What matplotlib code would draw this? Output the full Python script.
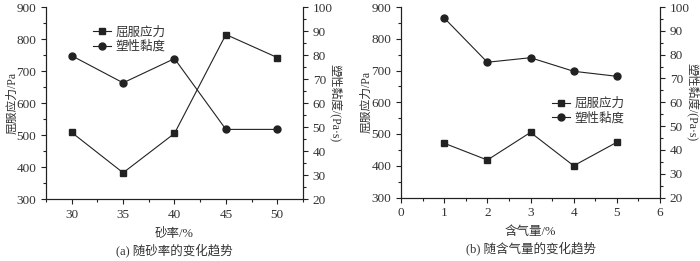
import matplotlib
matplotlib.use("Agg")
import matplotlib.pyplot as plt
from matplotlib.ticker import MultipleLocator

plt.rcParams['font.family'] = ['Liberation Serif', 'Noto Sans CJK SC']
plt.rcParams['font.size'] = 9.5

# (a) sand ratio
sand = [30, 35, 40, 45, 50]
yield_a = [508, 382, 505, 814, 742]
visc_a = [79.7, 68.4, 78.5, 49.0, 49.0]

# (b) air content
air = [1, 2, 3, 4, 5]
yield_b = [471, 418, 505, 400, 474]
visc_b = [95.4, 76.8, 78.7, 73.0, 70.9]

lab_yield = '屈服应力'
lab_visc = '塑性黏度'
txt = '#333333'
lc = '#222222'

fig = plt.figure(figsize=(7.0, 2.61), dpi=100)


def panel(rect, x, y1, y2, xlim, xmaj, xmin, xlabel, caption, leg_loc):
    ax = fig.add_axes(rect)
    ax2 = ax.twinx()
    l1, = ax.plot(x, y1, color=lc, lw=0.8, marker='s', ms=4.5, label=lab_yield)
    l2, = ax2.plot(x, y2, color=lc, lw=0.8, marker='o', ms=5, label=lab_visc)
    ax.set_xlim(*xlim)
    ax.set_ylim(300, 900)
    ax2.set_ylim(20, 100)
    ax.xaxis.set_major_locator(MultipleLocator(xmaj))
    ax.xaxis.set_minor_locator(MultipleLocator(xmin))
    ax.yaxis.set_major_locator(MultipleLocator(100))
    ax.yaxis.set_minor_locator(MultipleLocator(50))
    ax2.yaxis.set_major_locator(MultipleLocator(10))
    ax2.yaxis.set_minor_locator(MultipleLocator(5))
    for a in (ax, ax2):
        a.spines['top'].set_visible(False)
        for s in a.spines.values():
            s.set_color(lc)
            s.set_linewidth(0.8)
        a.tick_params(which='both', direction='out', colors=lc, labelcolor=txt,
                      width=0.8)
        a.tick_params(which='major', length=3.5)
        a.tick_params(which='minor', length=2)
    ax.set_ylabel('屈服应力/Pa', color=txt, fontsize=8.5, va='center')
    ax.yaxis.set_label_coords(-0.132, 0.5)
    ax2.set_ylabel('塑性黏度/(Pa·s)', color=txt, rotation=270, fontsize=8.5,
                   va='center')
    ax2.yaxis.set_label_coords(1.125, 0.5)
    ax.set_xlabel(xlabel, color=txt, labelpad=5, fontsize=9)
    ax.text(0.5, -0.23, caption, transform=ax.transAxes, ha='center',
            va='top', color=txt, fontsize=9)
    leg = ax.legend([l1, l2], [lab_yield, lab_visc], loc='upper left',
                    bbox_to_anchor=leg_loc, frameon=False, handlelength=1.4,
                    handletextpad=0.4, labelspacing=0.15, borderpad=0,
                    fontsize=9)
    for t in leg.get_texts():
        t.set_color(txt)
    return ax


panel([46 / 700, 62 / 261, 257 / 700, 192 / 261], sand, yield_a, visc_a,
      (27.5, 52.5), 5, 2.5, '砂率/%', '(a) 随砂率的变化趋势', (0.16, 0.93))
panel([401 / 700, 63.5 / 261, 259 / 700, 190.5 / 261], air, yield_b, visc_b,
      (0, 6), 1, 0.5, '含气量/%', '(b) 随含气量的变化趋势', (0.56, 0.555))

fig.savefig('out.png', dpi=100)
